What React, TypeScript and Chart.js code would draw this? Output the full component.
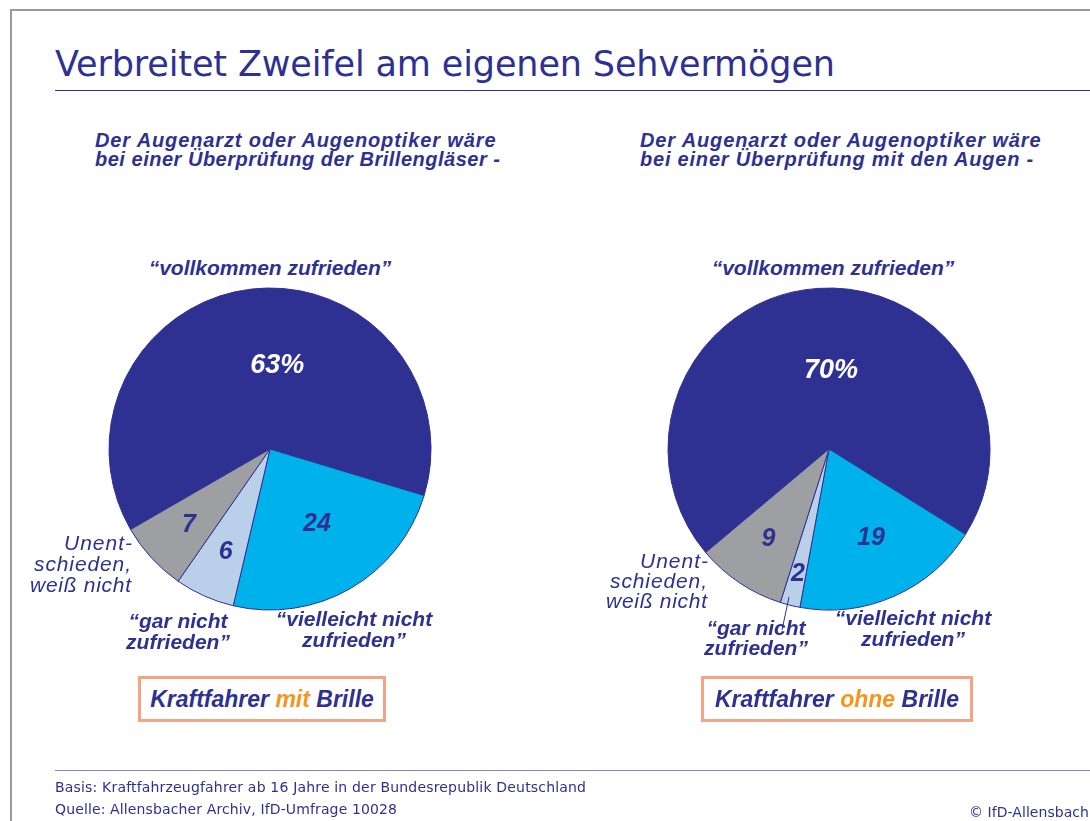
import React, { useEffect, useRef } from "react";
import { Chart, registerables } from "chart.js";

Chart.register(...registerables);

// ---------- DATA ----------
const categories = [
  "vollkommen zufrieden",
  "vielleicht nicht zufrieden",
  "gar nicht zufrieden",
  "Unentschieden, weiß nicht",
];
const mitBrilleValues = [63, 24, 6, 7];
const ohneBrilleValues = [70, 19, 2, 9];
const mitBrilleLabels = ["63%", "24", "6", "7"];
const ohneBrilleLabels = ["70%", "19", "2", "9"];

// ---------- STYLE ----------
const NAVY = "#2E3192";
const ORANGE = "#F7941D";
const SALMON = "#F4A386";
const sliceColors = ["#2E3192", "#00B2EB", "#B9CFEA", "#9D9FA2"];
const labelColors = ["#FFFFFF", NAVY, NAVY, NAVY];
const FONT = "'Liberation Sans', Arial, sans-serif";
const WIDE = "'DejaVu Sans', sans-serif";

let measureCtx: CanvasRenderingContext2D | null = null;
function measure(text: string, font: string): number {
  if (!measureCtx) measureCtx = document.createElement("canvas").getContext("2d");
  if (!measureCtx) return 0;
  measureCtx.font = font;
  return measureCtx.measureText(text).width;
}

const valueLabelPlugin = {
  id: "valueLabels",
  afterDatasetsDraw(chart: any, _args: any, opts: any) {
    const meta = chart.getDatasetMeta(0);
    const ctx = chart.ctx;
    ctx.save();
    meta.data.forEach((arc: any, i: number) => {
      const p = arc.getProps(["x", "y", "startAngle", "endAngle", "outerRadius"], true);
      const mid = (p.startAngle + p.endAngle) / 2 + ((opts.angleOffsets[i] || 0) * Math.PI) / 180;
      const r = p.outerRadius * opts.radii[i];
      ctx.font = `italic bold ${opts.sizes[i]}px ${FONT}`;
      ctx.fillStyle = labelColors[i];
      ctx.textAlign = "center";
      ctx.textBaseline = "middle";
      ctx.fillText(opts.labels[i], p.x + Math.cos(mid) * r, p.y + Math.sin(mid) * r);
    });
    ctx.restore();
  },
};

function Pie(props: {
  values: number[];
  labels: string[];
  rotation: number;
  radii: number[];
  angleOffsets: number[];
  left: number;
  top: number;
}) {
  const ref = useRef<HTMLCanvasElement>(null);
  useEffect(() => {
    if (!ref.current) return;
    const chart = new Chart(ref.current, {
      type: "pie",
      data: {
        labels: categories,
        datasets: [
          {
            data: props.values,
            backgroundColor: sliceColors,
            borderColor: NAVY,
            borderWidth: 1,
            radius: 161,
          } as any,
        ],
      },
      options: {
        animation: false,
        responsive: false,
        rotation: props.rotation,
        layout: { padding: 0 },
        plugins: {
          legend: { display: false },
          tooltip: { enabled: false },
          valueLabels: {
            labels: props.labels,
            radii: props.radii,
            angleOffsets: props.angleOffsets,
            sizes: [27, 25, 25, 25],
          },
        } as any,
      },
      plugins: [valueLabelPlugin],
    });
    return () => chart.destroy();
  }, []);
  return (
    <canvas
      ref={ref}
      width={340}
      height={340}
      style={{ position: "absolute", left: props.left, top: props.top, width: 340, height: 340 }}
    />
  );
}

function T(props: {
  x: number;
  y: number; // baseline
  size: number;
  align?: "left" | "center" | "right";
  bold?: boolean;
  italic?: boolean;
  color?: string;
  family?: string;
  fit?: number; // target text width
  asc?: number;
  children: string;
}) {
  const align = props.align || "left";
  const family = props.family || FONT;
  const w = 800;
  let left = props.x;
  if (align === "center") left = props.x - w / 2;
  if (align === "right") left = props.x - w;
  let ls = 0;
  if (props.fit) {
    const font = `${props.italic ? "italic" : "normal"} ${props.bold ? 700 : 400} ${props.size}px ${family}`;
    const m = measure(props.children, font);
    if (m > 0) ls = (props.fit - m) / Math.max(1, props.children.length - 1);
  }
  const asc = props.asc ?? (family === WIDE ? 0.928 + (1 - 1.164) / 2 : 0.8465);
  return (
    <div
      style={{
        position: "absolute",
        left: align === "right" && ls ? left + ls : left,
        top: props.y - props.size * asc,
        width: w,
        textAlign: align,
        fontFamily: family,
        fontSize: props.size,
        lineHeight: `${props.size}px`,
        fontWeight: props.bold ? 700 : 400,
        fontStyle: props.italic ? "italic" : "normal",
        color: props.color || NAVY,
        whiteSpace: "nowrap",
        letterSpacing: ls ? `${ls}px` : undefined,
      }}
    >
      {props.children}
    </div>
  );
}

function Box(props: { left: number; top: number; width: number; height: number; word: string }) {
  return (
    <div
      style={{
        position: "absolute",
        left: props.left,
        top: props.top,
        width: props.width,
        height: props.height,
        boxSizing: "border-box",
        border: `3px solid ${SALMON}`,
        display: "flex",
        alignItems: "center",
        justifyContent: "center",
        fontFamily: FONT,
        fontSize: 23,
        fontWeight: 700,
        fontStyle: "italic",
        color: NAVY,
        whiteSpace: "nowrap",
      }}
    >
      Kraftfahrer&nbsp;<span style={{ color: ORANGE }}>{props.word}</span>&nbsp;Brille
    </div>
  );
}

export default function App() {
  useEffect(() => {
    document.body.style.margin = "0";
  }, []);
  const leftC = { x: 269.5, y: 448.5 };
  const rightC = { x: 828.5, y: 448.5 };
  return (
    <div style={{ position: "relative", width: 1090, height: 821, background: "#fff", overflow: "hidden" }}>
      {/* frame */}
      <div style={{ position: "absolute", left: 10, top: 9, width: 1080, height: 0, borderTop: "2px solid #9a9a9a" }} />
      <div style={{ position: "absolute", left: 10, top: 9, width: 0, height: 812, borderLeft: "2px solid #9a9a9a" }} />

      <T x={55} y={77} size={35} family={WIDE} fit={780}>Verbreitet Zweifel am eigenen Sehvermögen</T>
      <div style={{ position: "absolute", left: 55, top: 90, width: 1035, height: 0, borderTop: `1.5px solid ${NAVY}` }} />

      <T x={95} y={147} size={20} bold italic fit={402}>Der Augenarzt oder Augenoptiker wäre</T>
      <T x={95} y={166} size={20} bold italic fit={405}>bei einer Überprüfung der Brillengläser -</T>
      <T x={640} y={147} size={20} bold italic fit={402}>Der Augenarzt oder Augenoptiker wäre</T>
      <T x={640} y={166} size={20} bold italic fit={394}>bei einer Überprüfung mit den Augen -</T>

      <Pie
        values={mitBrilleValues}
        labels={mitBrilleLabels}
        rotation={240}
        radii={[0.52, 0.55, 0.7, 0.69]}
        angleOffsets={[11.5, -2, -0.8, -0.6]}
        left={leftC.x - 170}
        top={leftC.y - 170}
      />
      <Pie
        values={ohneBrilleValues}
        labels={ohneBrilleLabels}
        rotation={230}
        radii={[0.485, 0.61, 0.8, 0.675]}
        angleOffsets={[5.5, -1.5, 0, 0]}
        left={rightC.x - 170}
        top={rightC.y - 170}
      />

      {/* left pie labels */}
      <T x={270} y={275} size={21} bold italic align="center">“vollkommen zufrieden”</T>
      <T x={132} y={550} size={21} italic align="right" fit={68}>Unent-</T>
      <T x={131} y={571} size={21} italic align="right" fit={97}>schieden,</T>
      <T x={131} y={592} size={21} italic align="right" fit={101}>weiß nicht</T>
      <T x={178} y={628} size={21} bold italic align="center">“gar nicht</T>
      <T x={178} y={649} size={21} bold italic align="center">zufrieden”</T>
      <T x={354} y={626} size={21} bold italic align="center">“vielleicht nicht</T>
      <T x={354} y={647} size={21} bold italic align="center">zufrieden”</T>
      <Box left={138} top={676} width={248} height={46} word="mit" />

      {/* right pie labels */}
      <T x={833} y={275} size={21} bold italic align="center">“vollkommen zufrieden”</T>
      <T x={708} y={568} size={21} italic align="right" fit={68}>Unent-</T>
      <T x={707} y={588} size={21} italic align="right" fit={97}>schieden,</T>
      <T x={707} y={608} size={21} italic align="right" fit={101}>weiß nicht</T>
      <T x={756} y={635} size={21} bold italic align="center">“gar nicht</T>
      <T x={756} y={655} size={21} bold italic align="center">zufrieden”</T>
      <T x={913} y={625} size={21} bold italic align="center">“vielleicht nicht</T>
      <T x={913} y={646} size={21} bold italic align="center">zufrieden”</T>
      <svg style={{ position: "absolute", left: 0, top: 0 }} width={1090} height={821}>
        <line x1={789} y1={597} x2={782} y2={630} stroke={NAVY} strokeWidth={1} />
      </svg>
      <Box left={701} top={676} width={272} height={46} word="ohne" />

      {/* footer */}
      <div style={{ position: "absolute", left: 55, top: 770, width: 1035, height: 0, borderTop: "1.5px solid #8587BE" }} />
      <T x={55} y={792} size={14} family={WIDE} fit={531}>Basis: Kraftfahrzeugfahrer ab 16 Jahre in der Bundesrepublik Deutschland</T>
      <T x={55} y={814} size={14} family={WIDE} fit={342}>Quelle: Allensbacher Archiv, IfD-Umfrage 10028</T>
      <T x={1089} y={817} size={14} family={WIDE} align="right" fit={120}>© IfD-Allensbach</T>
    </div>
  );
}
